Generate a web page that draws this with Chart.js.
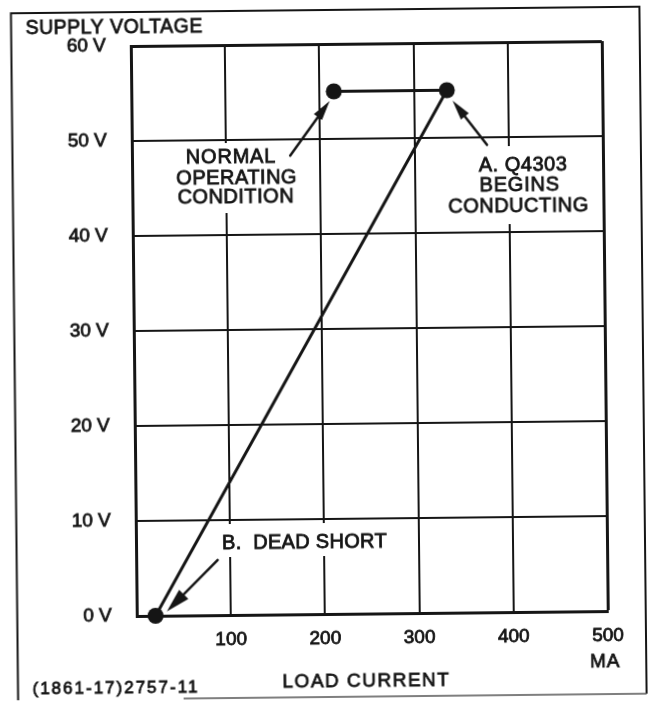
<!DOCTYPE html>
<html>
<head>
<meta charset="utf-8">
<title>Supply voltage vs load current</title>
<script src="https://cdn.jsdelivr.net/npm/chart.js@4.4.1/dist/chart.umd.min.js"></script>
<style>
  html, body { margin: 0; padding: 0; background: #fff; overflow: hidden; }
  #sheet { width: 653px; height: 703px; transform: rotate(-0.6deg); transform-origin: 50% 50%; }
  canvas { display: block; }
</style>
</head>
<body>
<div id="sheet"><canvas id="chart" width="653" height="703"></canvas></div>
<script>
// Axis ticks
const currentTicks = [0, 100, 200, 300, 400, 500];      // MA
const voltageTicks = [0, 10, 20, 30, 40, 50, 60];       // V

// Operating curve: normal point -> A (Q4303 begins conducting) -> B (dead short)
const loadCurrentMA  = [215, 335, 20];
const supplyVoltageV = [55, 55, 0];

// Callout arrows, in data units (mA, V)
const arrowTails = [[168, 48.3], [377, 49.2], [86.5, 5.8]];
const arrowTips  = [[210.5, 54], [341, 53.9], [32, 0.45]];

const INK = '#151515';
const FONT = '"Liberation Sans", Arial, Helvetica, sans-serif';

function drawText(ctx, s, x, y, size, spacing, align) {
  ctx.save();
  ctx.font = size + 'px ' + FONT;
  ctx.letterSpacing = spacing + 'px';
  ctx.textAlign = align;
  ctx.textBaseline = 'middle';
  ctx.fillStyle = INK;
  ctx.strokeStyle = INK;
  ctx.lineWidth = 0.8;
  ctx.fillText(s, x, y);
  ctx.strokeText(s, x, y);
  ctx.letterSpacing = '0px';
  ctx.restore();
}

function drawArrow(ctx, x0, y0, x1, y1, len, half) {
  const a = Math.atan2(y1 - y0, x1 - x0);
  const bx = x1 - Math.cos(a) * len, by = y1 - Math.sin(a) * len;
  ctx.beginPath();
  ctx.moveTo(x0, y0);
  ctx.lineTo(bx + Math.cos(a) * 4, by + Math.sin(a) * 4);
  ctx.stroke();
  ctx.beginPath();
  ctx.moveTo(x1, y1);
  ctx.lineTo(bx - Math.sin(a) * half, by + Math.cos(a) * half);
  ctx.lineTo(bx + Math.sin(a) * half, by - Math.cos(a) * half);
  ctx.closePath();
  ctx.fill();
}

const annotate = {
  id: 'annotate',
  beforeDatasetsDraw(chart) {
    // clear the grid behind the callout lettering
    const ctx = chart.ctx;
    ctx.save();
    ctx.fillStyle = '#fff';
    ctx.fillRect(176, 142, 126, 70);
    ctx.fillRect(446, 148, 151, 78);
    ctx.fillRect(216, 523, 184, 33);
    ctx.restore();
  },
  afterDatasetsDraw(chart) {
    const ctx = chart.ctx;
    const xs = chart.scales.x, ys = chart.scales.y;
    ctx.save();

    // sheet frame
    ctx.strokeStyle = INK;
    ctx.lineWidth = 2;
    ctx.beginPath();
    ctx.moveTo(14.5, 697);
    ctx.lineTo(14.5, 10);
    ctx.lineTo(643, 10);
    ctx.lineTo(643, 697);
    ctx.stroke();
    ctx.strokeStyle = '#555';
    ctx.lineWidth = 1.5;
    ctx.beginPath();
    ctx.moveTo(180, 697);
    ctx.lineTo(643, 697);
    ctx.stroke();

    // callout arrows
    ctx.strokeStyle = INK;
    ctx.fillStyle = INK;
    ctx.lineWidth = 2.5;
    ctx.lineCap = 'round';
    const heads = [[20, 5], [20, 5], [24, 6.5]];
    arrowTails.forEach((t, i) => {
      const p = arrowTips[i];
      drawArrow(ctx,
        xs.getPixelForValue(t[0]), ys.getPixelForValue(t[1]),
        xs.getPixelForValue(p[0]), ys.getPixelForValue(p[1]),
        heads[i][0], heads[i][1]);
    });
    ctx.restore();

    // lettering
    drawText(ctx, 'SUPPLY VOLTAGE', 29, 26, 19.5, 0.5, 'left');
    drawText(ctx, 'NORMAL', 233, 156, 20, 0.8, 'center');
    drawText(ctx, 'OPERATING', 238.5, 177.5, 20, 0.5, 'center');
    drawText(ctx, 'CONDITION', 237.5, 196.5, 20, 0.5, 'center');
    drawText(ctx, 'A. Q4303', 525, 167, 20, 0.5, 'center');
    drawText(ctx, 'BEGINS', 521.5, 187.5, 20, 0.8, 'center');
    drawText(ctx, 'CONDUCTING', 520, 208, 20, 0.5, 'center');
    drawText(ctx, 'B.  DEAD SHORT', 220, 542, 20, 0.3, 'left');
    drawText(ctx, 'LOAD CURRENT', 363, 682, 19, 1.5, 'center');
    drawText(ctx, 'MA', 602, 665, 19, 1, 'center');
    drawText(ctx, '(1861-17)2757-11', 29, 686, 17, 2, 'left');
  }
};

new Chart(document.getElementById('chart'), {
  type: 'scatter',
  data: {
    datasets: [{
      data: loadCurrentMA.map((x, i) => ({ x: x, y: supplyVoltageV[i] })),
      showLine: true,
      tension: 0,
      borderColor: INK,
      borderWidth: 3,
      pointRadius: 8,
      pointBackgroundColor: INK,
      pointBorderWidth: 0,
      clip: false
    }]
  },
  options: {
    responsive: false,
    devicePixelRatio: 1,
    animation: false,
    events: [],
    layout: { padding: { top: 44, right: 48, bottom: 0, left: 0 } },
    plugins: { legend: { display: false }, tooltip: { enabled: false } },
    scales: {
      x: {
        type: 'linear',
        min: 0, max: 500,
        afterBuildTicks: s => { s.ticks = currentTicks.map(v => ({ value: v })); },
        afterFit: s => { s.height = 89; },
        ticks: {
          callback: v => (v === 0 ? '' : String(v)),
          color: INK,
          font: { family: FONT, size: 19 },
          padding: 13,
          maxRotation: 0,
          autoSkip: false,
          textStrokeColor: INK,
          textStrokeWidth: 0.8
        },
        grid: { color: INK, lineWidth: c => (c.tick && c.tick.value === 500 ? 3 : 2), drawTicks: false },
        border: { display: true, color: INK, width: 3 }
      },
      y: {
        type: 'linear',
        min: 0, max: 60,
        afterBuildTicks: s => { s.ticks = voltageTicks.map(v => ({ value: v })); },
        afterFit: s => { s.width = 134; },
        ticks: {
          callback: v => v + ' V',
          color: INK,
          font: { family: FONT, size: 19 },
          padding: 25,
          crossAlign: 'near',
          autoSkip: false,
          textStrokeColor: INK,
          textStrokeWidth: 0.8
        },
        grid: { color: INK, lineWidth: c => (c.tick && c.tick.value === 60 ? 3 : 2), drawTicks: false },
        border: { display: true, color: INK, width: 3 }
      }
    }
  },
  plugins: [annotate]
});
</script>
</body>
</html>
